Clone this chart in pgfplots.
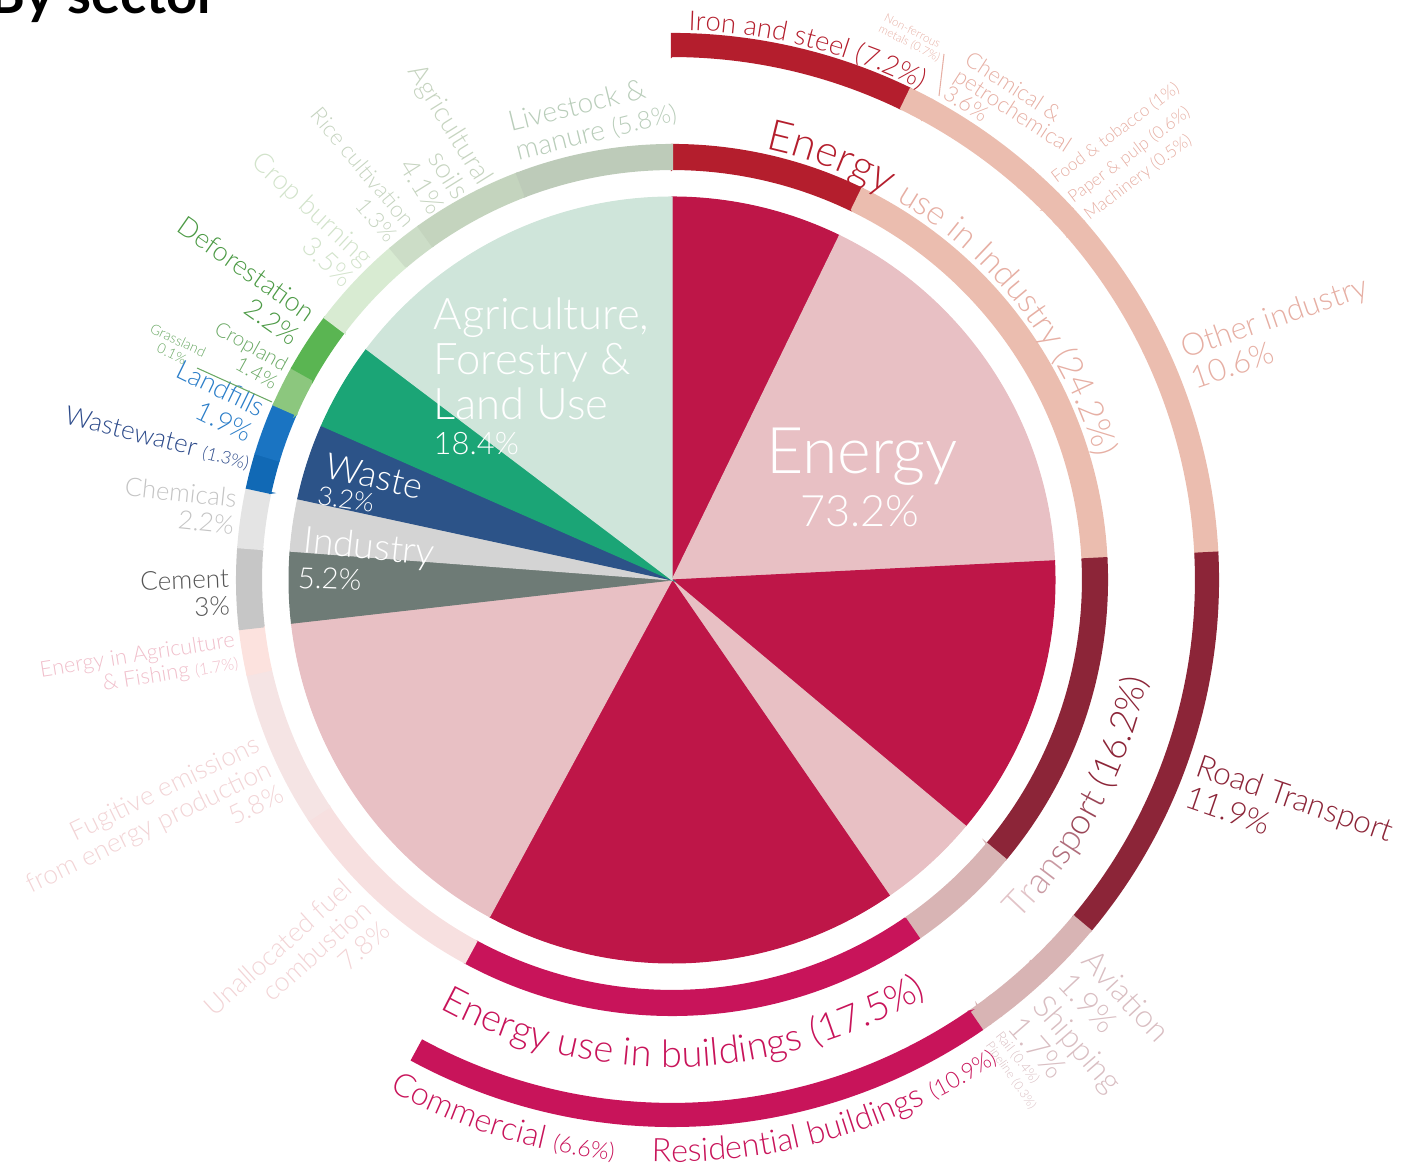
\documentclass[border=0pt]{standalone}
\usepackage{pgfplots}
\pgfplotsset{compat=1.18}
\usepackage{pgfplotstable}
\usetikzlibrary{decorations.text}
\usepackage{fontspec}
\IfFontExistsTF{Lato Light}{\setmainfont{Lato Light}}{\setmainfont{Lato}}
\newfontfamily\titlefont{Lato}
\newcommand\fs[1]{\fontsize{#1}{\fpeval{round(1.05*#1,2)}}\selectfont}

% fills
\definecolor{cCrim}{HTML}{BE1648}
\definecolor{cPink}{HTML}{E8C0C4}
\definecolor{cCemP}{HTML}{6E7B76}
\definecolor{cChemP}{HTML}{D4D4D4}
\definecolor{cWasteP}{HTML}{2C5388}
\definecolor{cGreenP}{HTML}{1BA576}
\definecolor{cMint}{HTML}{CFE5DA}
\definecolor{cIron}{HTML}{B41E2D}
\definecolor{cSalm}{HTML}{EBBDAF}
\definecolor{cMaroon}{HTML}{8C2538}
\definecolor{cTrL}{HTML}{D8B4B4}
\definecolor{cBldg}{HTML}{C8145A}
\definecolor{cUnal}{HTML}{F7E0E0}
\definecolor{cFug}{HTML}{F5E4E4}
\definecolor{cEag}{HTML}{FCE2DE}
\definecolor{cCemR}{HTML}{C6C6C6}
\definecolor{cChemR}{HTML}{E4E4E4}
\definecolor{cWW}{HTML}{1169B5}
\definecolor{cLF}{HTML}{1A74C2}
\definecolor{cCrop}{HTML}{8CC77E}
\definecolor{cDefo}{HTML}{5AB552}
\definecolor{cBurn}{HTML}{D8EBD2}
\definecolor{cRice}{HTML}{CCDDC7}
\definecolor{cSoil}{HTML}{C4D4BE}
\definecolor{cLive}{HTML}{BDCBB9}
% text colours
\definecolor{tIron}{HTML}{B41E2D}
\definecolor{tSalm}{HTML}{E6AFA4}
\definecolor{tMaroon}{HTML}{8C2538}
\definecolor{tTrL}{HTML}{D9BEC2}
\definecolor{tBldg}{HTML}{C8145A}
\definecolor{tUnal}{HTML}{F2D4D6}
\definecolor{tEag}{HTML}{F0BFCB}
\definecolor{tCem}{HTML}{555555}
\definecolor{tChem}{HTML}{C4C4C4}
\definecolor{tWW}{HTML}{2C4A8A}
\definecolor{tLF}{HTML}{2A7DC8}
\definecolor{tGrass}{HTML}{6AA864}
\definecolor{tDefo}{HTML}{4C9A45}
\definecolor{tBurn}{HTML}{D2E3CB}
\definecolor{tRice}{HTML}{C6D4C0}
\definecolor{tLive}{HTML}{B9CDBA}
\definecolor{tA}{HTML}{E2C4C8}
\definecolor{tB}{HTML}{C99AA3}
\definecolor{tC}{HTML}{B06E7C}
\definecolor{tD}{HTML}{9A4556}
\definecolor{tE}{HTML}{8C2538}

% ---- data (% of global emissions), clockwise from 12 o'clock ----
\pgfplotstableread{
pct col
7.2  cCrim
17.0 cPink
11.9 cCrim
4.3  cPink
17.5 cCrim
15.3 cPink
3.0  cCemP
2.2  cChemP
3.2  cWasteP
3.7  cGreenP
14.7 cMint
}\pieT
\pgfplotstableread{
pct col
7.2 cIron
17.0 cSalm
11.9 cMaroon
4.3 cTrL
17.5 cBldg
7.8 cUnal
5.8 cFug
1.7 cEag
3.0 cCemR
2.2 cChemR
1.3 cWW
1.9 cLF
0.1 cCrop
1.4 cCrop
2.2 cDefo
3.5 cBurn
1.3 cRice
4.1 cSoil
5.8 cLive
}\midT
\pgfplotstableread{
pct col
7.2 cIron
0.7 cSalm
3.6 cSalm
1.0 cSalm
0.6 cSalm
0.5 cSalm
10.6 cSalm
11.9 cMaroon
1.9 cTrL
1.7 cTrL
0.4 cTrL
0.3 cTrL
10.9 cBldg
6.6 cBldg
}\outT

\newcommand\seg[5]{%
  \fill[draw=white,line width=0.6pt,#5]
    (axis cs:{#1*cos(#3)},{#1*sin(#3)}) -- (axis cs:{#2*cos(#3)},{#2*sin(#3)})
    arc[start angle=#3,end angle=#4,radius=#2*0.01cm]
    -- (axis cs:{#1*cos(#4)},{#1*sin(#4)})
    arc[start angle=#4,end angle=#3,radius=#1*0.01cm] -- cycle;}
\gdef\ringcmds{}
\newcommand\buildring[5]{% table, rin, rout, start pct, line width
  \pgfplotstablegetrowsof{#1}%
  \pgfmathtruncatemacro\nrows{\pgfplotsretval-1}%
  \xdef\cum{#4}%
  \foreach \i in {0,...,\nrows}{%
    \pgfplotstablegetelem{\i}{pct}\of{#1}\let\segp\pgfplotsretval
    \pgfplotstablegetelem{\i}{col}\of{#1}\let\segc\pgfplotsretval
    \pgfmathsetmacro\aone{90-3.6*\cum}%
    \pgfmathsetmacro\atwo{90-3.6*(\cum+\segp)}%
    \xdef\ringcmds{\unexpanded\expandafter{\ringcmds}\noexpand\seg{#2}{#3}{\aone}{\atwo}{\segc,line width=#5}}%
    \pgfmathsetmacro\tmp{\cum+\segp}\xdef\cum{\tmp}%
  }}
\buildring{\pieT}{0}{383}{0}{0.3pt}
\buildring{\midT}{411}{435}{0}{0.6pt}
\buildring{\outT}{524}{546}{0}{0.6pt}

\begin{document}
\begin{tikzpicture}
\begin{axis}[name=ax, at={(0,0)}, anchor=south west,
  x=0.01cm, y=0.01cm, xmin=-672, xmax=740, ymin=-583, ymax=580,
  hide axis, clip=false]
\ringcmds

% ---------- title (cropped at the top) ----------
\node[anchor=base west, inner sep=0pt, font=\titlefont\bfseries\fontsize{15.5}{16}\selectfont] at (axis cs:-683,566) {By sector};

% ---------- pie labels ----------
\node[anchor=base, text=white, inner sep=0pt, font=\fs{18.3}] at (axis cs:190,106) {Energy};
\node[anchor=base, text=white, inner sep=0pt, font=\fs{12.3}] at (axis cs:188,53) {73.2\%};
\node[anchor=base west, text=white, inner sep=0pt, font=\fs{12.4}] at (axis cs:-239,250) {Agriculture,};
\node[anchor=base west, text=white, inner sep=0pt, font=\fs{12.4}] at (axis cs:-239,205) {Forestry \&};
\node[anchor=base west, text=white, inner sep=0pt, font=\fs{12.4}] at (axis cs:-239,160) {Land Use};
\node[anchor=base west, text=white, inner sep=0pt, font=\fs{8.8}] at (axis cs:-239,125) {18.4\%};
\node[anchor=base west, text=white, inner sep=0pt, rotate=-13, font=\fs{10.2}] at (axis cs:-349,103) {Waste};
\node[anchor=base west, text=white, inner sep=0pt, rotate=-8, font=\fs{7.4}] at (axis cs:-356,76) {3.2\%};
\node[anchor=base west, text=white, inner sep=0pt, rotate=-6, font=\fs{10.6}] at (axis cs:-370,28) {Industry};
\node[anchor=base west, text=white, inner sep=0pt, rotate=-2, font=\fs{8.3}] at (axis cs:-375,-8) {5.2\%};

% ---------- curved ring labels ----------
\path[decorate,decoration={text along path,text align=left,
  text={|\fs{7.8}\color{tIron}|Iron and steel (7.2{\%})}}]
  (axis cs:{550*cos(88.3)},{550*sin(88.3)}) arc[start angle=88.3,end angle=45,radius=5.50cm];
\path[decorate,decoration={text along path,text align=left,
  text={|\fs{12.2}\color{tIron}|Energy |\fs{9.6}\color{tSalm}|use in Industry (24.2{\%})}}]
  (axis cs:{441*cos(77.8)},{441*sin(77.8)}) arc[start angle=77.8,end angle=-5,radius=4.41cm];
\path[decorate,decoration={text along path,text align=left,
  text={|\fs{10.2}\color{tA}|Tr|\fs{10.2}\color{tB}|an|\fs{10.2}\color{tC}|sp|\fs{10.2}\color{tD}|ort |\fs{10.2}\color{tE}|(16.2{\%})}}]
  (axis cs:{486*cos(-44.5)},{486*sin(-44.5)}) arc[start angle=-44.5,end angle=5,radius=4.86cm];
\path[decorate,decoration={text along path,text align=left,
  text={|\fs{10.8}\color{tBldg}|Energy use in buildings (17.5{\%})}}]
  (axis cs:{487*cos(-118.5)},{487*sin(-118.5)}) arc[start angle=-118.5,end angle=-35,radius=4.87cm];
\path[decorate,decoration={text along path,text align=left,
  text={|\fs{9.2}\color{tBldg}|Commercial |\fs{6.6}\color{tBldg}|(6.6{\%})}}]
  (axis cs:{583*cos(-119)},{583*sin(-119)}) arc[start angle=-119,end angle=-80,radius=5.83cm];
\path[decorate,decoration={text along path,text align=left,
  text={|\fs{9.2}\color{tBldg}|Residential buildings |\fs{6.5}\color{tBldg}|(10.9{\%})}}]
  (axis cs:{582*cos(-92)},{582*sin(-92)}) arc[start angle=-92,end angle=-35,radius=5.82cm];

% ---------- industry sub-sectors ----------
\node[anchor=center, rotate=-27, text=tSalm, align=left, inner sep=0pt, font=\fs{3.3}] at (axis cs:240,542) {Non-ferrous\\metals (0.7\%)};
\draw[tSalm, line width=0.3pt] (axis cs:267,484) -- (axis cs:272,526);
\node[anchor=north west, rotate=-33, text=tSalm, align=left, inner sep=0pt, font=\fontsize{6.3}{5.7}\selectfont] at (axis cs:300,531) {Chemical \&\\petrochemical\\3.6\%};
\node[anchor=west, rotate=37, text=tSalm, inner sep=0pt, font=\fs{4.9}] at (axis cs:381,400) {Food \& tobacco (1\%)};
\node[anchor=west, rotate=37, text=tSalm, inner sep=0pt, font=\fs{4.9}] at (axis cs:398,380) {Paper \& pulp (0.6\%)};
\node[anchor=west, rotate=37, text=tSalm, inner sep=0pt, font=\fs{4.9}] at (axis cs:414,363) {Machinery (0.5\%)};
\node[anchor=west, rotate=19, text=tSalm, align=left, inner sep=0pt, font=\fs{8.8}] at (axis cs:514,216) {Other industry\\10.6\%};

% ---------- transport sub-sectors ----------
\node[anchor=west, rotate=-19, text=tMaroon, align=left, inner sep=0pt, font=\fs{9}] at (axis cs:520,-200) {Road Transport\\11.9\%};
\node[anchor=west, rotate=-47, text=tTrL, align=left, inner sep=0pt, font=\fs{9}] at (axis cs:404,-386) {Aviation\\1.9\%};
\node[anchor=west, rotate=-49, text=tTrL, align=left, inner sep=0pt, font=\fs{9}] at (axis cs:355,-430) {Shipping\\1.7\%};
\node[anchor=west, rotate=-52, text=tTrL, inner sep=0pt, font=\fs{3.9}] at (axis cs:326,-453) {Rail (0.4\%)};
\node[anchor=west, rotate=-55, text=tTrL, inner sep=0pt, font=\fs{3.5}] at (axis cs:316,-463) {Pipeline (0.3\%)};

% ---------- other energy ----------
\node[anchor=east, rotate=42, text=tUnal, align=right, inner sep=0pt, font=\fs{7.6}] at (axis cs:-305,-325) {Unallocated fuel\\combustion\\7.8\%};
\node[anchor=east, rotate=26, text=tUnal, align=right, inner sep=0pt, font=\fs{7.5}] at (axis cs:-402,-187) {Fugitive emissions\\from energy production\\5.8\%};
\node[anchor=east, rotate=9, text=tEag, align=right, inner sep=0pt, font=\fs{6.2}] at (axis cs:-435,-72) {Energy in Agriculture\\\& Fishing {\fs{4.6}(1.7\%)}};

% ---------- industry, waste, AFOLU ----------
\node[anchor=east, rotate=2, text=tCem, align=right, inner sep=0pt, font=\fs{7.4}] at (axis cs:-442,-12) {Cement\\3\%};
\node[anchor=east, rotate=-6, text=tChem, align=right, inner sep=0pt, font=\fs{7.3}] at (axis cs:-436,68) {Chemicals\\2.2\%};
\node[anchor=east, rotate=-14, text=tWW, inner sep=0pt, font=\fs{7.4}] at (axis cs:-422,118) {Wastewater {\fs{5}(1.3\%)}};
\node[anchor=east, rotate=-26, text=tLF, align=right, inner sep=0pt, font=\fs{7.7}] at (axis cs:-414,158) {Landfills\\1.9\%};
\node[anchor=center, rotate=-25, text=tGrass, align=center, inner sep=0pt, font=\fs{4}] at (axis cs:-497,233) {Grassland\\0.1\%};
\draw[tGrass, line width=0.3pt] (axis cs:-475,212) -- (axis cs:-400,178);
\node[anchor=east, rotate=-29, text=tGrass, align=right, inner sep=0pt, font=\fs{5.8}] at (axis cs:-390,205) {Cropland\\1.4\%};
\node[anchor=east, rotate=-35, text=tDefo, align=right, inner sep=0pt, font=\fs{7.7}] at (axis cs:-367,253) {Deforestation\\2.2\%};
\node[anchor=east, rotate=-43, text=tBurn, align=right, inner sep=0pt, font=\fs{7.7}] at (axis cs:-312,308) {Crop burning\\3.5\%};
\node[anchor=east, rotate=-50, text=tRice, align=right, inner sep=0pt, font=\fs{6.4}] at (axis cs:-270,348) {Rice cultivation\\1.3\%};
\node[anchor=east, rotate=-58, text=tRice, align=right, inner sep=0pt, font=\fs{7.8}] at (axis cs:-209,383) {Agricultural\\soils\\4.1\%};
\node[anchor=west, rotate=14, text=tLive, align=left, inner sep=0pt, font=\fs{8}] at (axis cs:-160,442) {Livestock \&\\manure {\fs{7}(5.8\%)}};
\end{axis}
\pgfresetboundingbox
\useasboundingbox (ax.south west) rectangle (ax.north east);
\end{tikzpicture}
\end{document}
